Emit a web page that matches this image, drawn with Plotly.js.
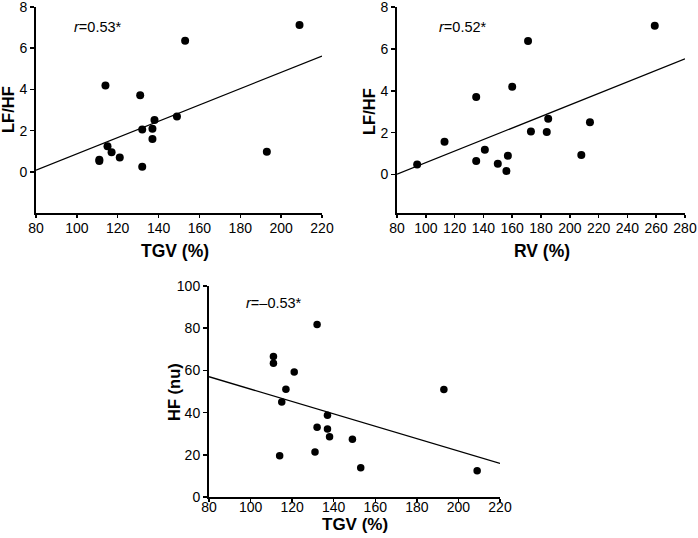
<!DOCTYPE html>
<html>
<head>
<meta charset="utf-8">
<script src="https://cdn.plot.ly/plotly-3.0.1.min.js"></script>
<style>html,body{margin:0;padding:0;background:#fff;}#chart{width:698px;height:538px;}</style>
</head>
<body>
<div id="chart"></div>
<script>
// Panel A: LF/HF vs TGV (%)
const tgv    = [111, 111, 114, 115, 117, 121, 131, 132, 132, 137, 137, 138, 149, 153, 193, 209];
const lfhfA  = [0.52, 0.58, 4.19, 1.24, 0.95, 0.69, 3.72, 0.24, 2.05, 1.59, 2.09, 2.51, 2.69, 6.36, 0.97, 7.13];
// Panel B: LF/HF vs RV (%)
const rv     = [94, 113, 135, 135, 141, 150, 156, 157, 160, 171, 173, 184, 185, 208, 214, 259];
const lfhfB  = [0.48, 1.57, 3.70, 0.65, 1.19, 0.52, 0.17, 0.90, 4.19, 6.38, 2.06, 2.03, 2.67, 0.94, 2.50, 7.10];
// Panel C: HF (nu) vs TGV (%)
const hf     = [66.6, 63.4, 19.6, 45.0, 51.1, 59.2, 21.3, 81.7, 33.1, 38.7, 32.2, 28.5, 27.4, 13.9, 51.0, 12.4];
// Regression lines (end points)
const fitAx = [80, 220],  fitAy = [0.08, 5.62];
const fitBx = [80, 280],  fitBy = [0.02, 5.53];
const fitCx = [80, 220],  fitCy = [57.0, 15.9];
// Labels
const rLabels = ['<i>r</i>=0.53*', '<i>r</i>=0.52*', '<i>r</i>=–0.53*'];
const xTitles = ['TGV (%)', 'RV (%)', 'TGV (%)'];
const yTitles = ['LF/HF', 'LF/HF', 'HF (nu)'];

const W = 698, H = 538;
const FONT = 'Liberation Sans, Arial, sans-serif';
const px = v => v / W, py = v => 1 - v / H;

function pts(x, y, xa, ya, size) {
  return {x, y, xaxis: xa, yaxis: ya, type: 'scatter', mode: 'markers',
          marker: {color: '#000', size: size}, hoverinfo: 'skip', showlegend: false, cliponaxis: false};
}
function fit(x, y, xa, ya) {
  return {x, y, xaxis: xa, yaxis: ya, type: 'scatter', mode: 'lines',
          line: {color: '#000', width: 1.3}, hoverinfo: 'skip', showlegend: false};
}

const data = [
  fit(fitAx, fitAy, 'x', 'y'), pts(tgv, lfhfA, 'x', 'y', 8),
  fit(fitBx, fitBy, 'x2', 'y2'), pts(rv, lfhfB, 'x2', 'y2', 8),
  fit(fitCx, fitCy, 'x3', 'y3'), pts(tgv, hf, 'x3', 'y3', 7.5)
];

function xax(domain, range, dtick, anchor, standoff) {
  return {domain, range, dtick, tick0: range[0], anchor, showline: true, linewidth: 2, linecolor: '#000',
          ticks: 'outside', ticklen: 3, tickwidth: 1.5, tickcolor: '#000', showgrid: false, zeroline: false,
          ticklabelstandoff: standoff, ticklabeloverflow: 'allow',
          tickfont: {family: FONT, size: 14, color: '#000'}, fixedrange: true};
}
function yax(domain, range, tickvals, anchor) {
  return {domain, range, tickvals, anchor, showline: true, linewidth: 2, linecolor: '#000',
          ticks: 'outside', ticklen: 4, tickwidth: 1.5, tickcolor: '#000', showgrid: false, zeroline: false,
          ticklabeloverflow: 'allow',
          tickfont: {family: FONT, size: 14, color: '#000'}, fixedrange: true};
}

const layout = {
  width: W, height: H,
  margin: {l: 0, r: 0, t: 0, b: 0},
  paper_bgcolor: '#fff', plot_bgcolor: '#fff',
  showlegend: false,
  font: {family: FONT, color: '#000'},
  xaxis:  xax([px(36), px(322)], [80, 220], 20, 'y', -2),
  yaxis:  yax([py(213), py(7)], [-2, 8], [0, 2, 4, 6, 8], 'x'),
  xaxis2: xax([px(397), px(685)], [80, 280], 20, 'y2', -2),
  yaxis2: yax([py(212.7), py(7)], [-1.82, 8], [0, 2, 4, 6, 8], 'x2'),
  xaxis3: xax([px(209), px(500)], [80, 220], 20, 'y3', -7),
  yaxis3: yax([py(497), py(286)], [0, 100], [0, 20, 40, 60, 80, 100], 'x3'),
  annotations: [
    {text: rLabels[0], x: px(72),  y: py(27),    xref: 'paper', yref: 'paper', xanchor: 'left', yanchor: 'middle', showarrow: false, font: {family: FONT, size: 14.5}},
    {text: rLabels[1], x: px(437), y: py(27),    xref: 'paper', yref: 'paper', xanchor: 'left', yanchor: 'middle', showarrow: false, font: {family: FONT, size: 14.5}},
    {text: rLabels[2], x: px(244), y: py(302.7), xref: 'paper', yref: 'paper', xanchor: 'left', yanchor: 'middle', showarrow: false, font: {family: FONT, size: 14.5}},
    {text: '<b>' + xTitles[0] + '</b>', x: px(175),   y: py(250.5), xref: 'paper', yref: 'paper', xanchor: 'center', yanchor: 'middle', showarrow: false, font: {family: FONT, size: 17.5}},
    {text: '<b>' + xTitles[1] + '</b>', x: px(541.7), y: py(250.5), xref: 'paper', yref: 'paper', xanchor: 'center', yanchor: 'middle', showarrow: false, font: {family: FONT, size: 17.5}},
    {text: '<b>' + xTitles[2] + '</b>', x: px(355),   y: py(524.5), xref: 'paper', yref: 'paper', xanchor: 'center', yanchor: 'middle', showarrow: false, font: {family: FONT, size: 17}},
    {text: '<b>' + yTitles[0] + '</b>', x: px(8),     y: py(110),   xref: 'paper', yref: 'paper', xanchor: 'center', yanchor: 'middle', textangle: -90, showarrow: false, font: {family: FONT, size: 16.5}},
    {text: '<b>' + yTitles[1] + '</b>', x: px(369),   y: py(112),   xref: 'paper', yref: 'paper', xanchor: 'center', yanchor: 'middle', textangle: -90, showarrow: false, font: {family: FONT, size: 16.5}},
    {text: '<b>' + yTitles[2] + '</b>', x: px(174),   y: py(392),   xref: 'paper', yref: 'paper', xanchor: 'center', yanchor: 'middle', textangle: -90, showarrow: false, font: {family: FONT, size: 16.5}}
  ]
};

Plotly.newPlot('chart', data, layout, {staticPlot: true, displayModeBar: false});
</script>
</body>
</html>
